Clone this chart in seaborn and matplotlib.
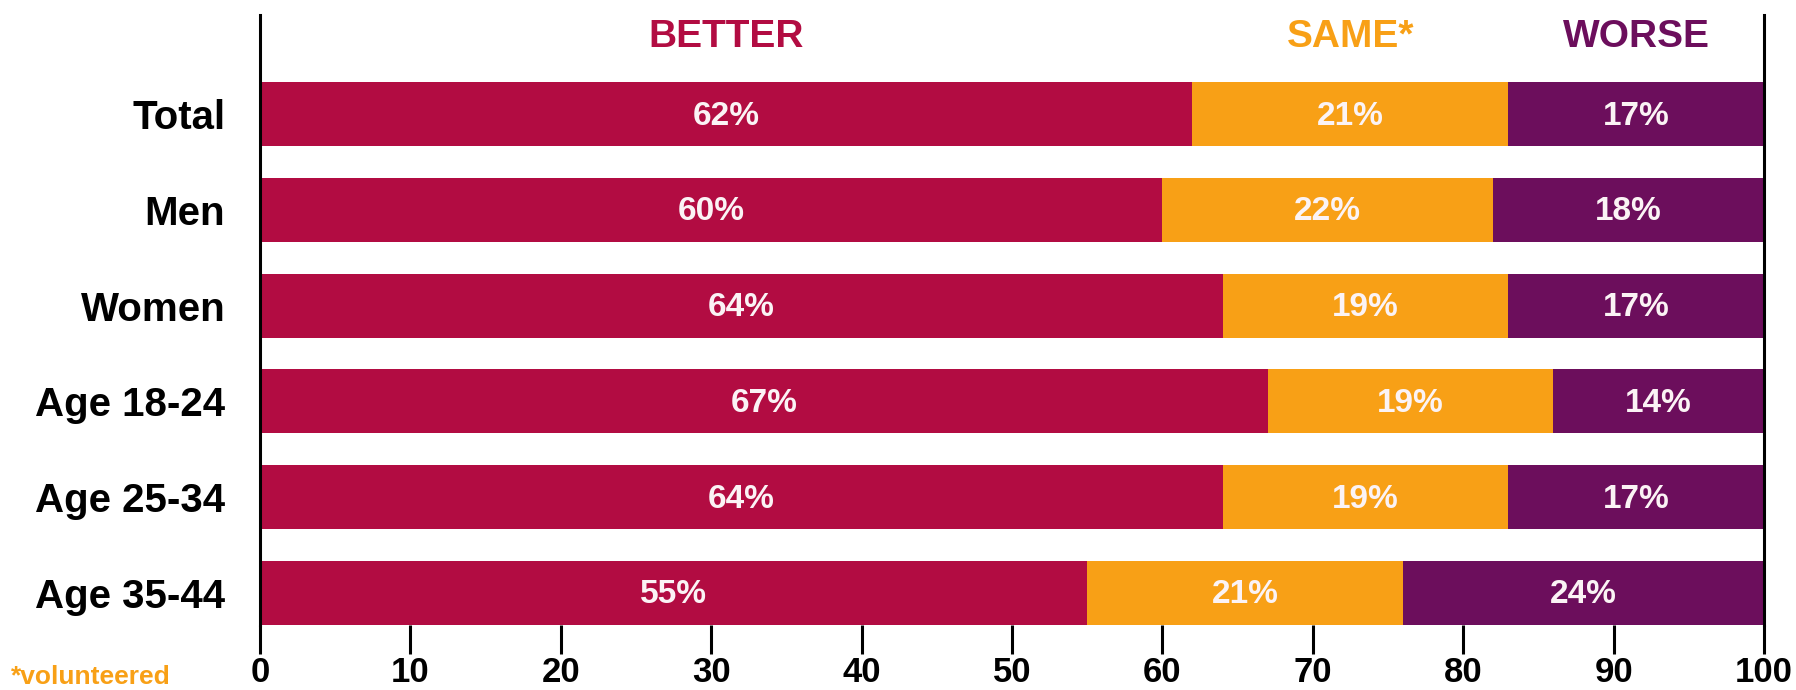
import matplotlib
matplotlib.use("Agg")
import matplotlib.pyplot as plt
import seaborn as sns
import numpy as np
import pandas as pd

categories = ["Total", "Men", "Women", "Age 18-24", "Age 25-34", "Age 35-44"]
better = [62, 60, 64, 67, 64, 55]
same = [21, 22, 19, 19, 19, 21]
worse = [17, 18, 17, 14, 17, 24]
series_names = ["BETTER", "SAME*", "WORSE"]
xticks = [0, 10, 20, 30, 40, 50, 60, 70, 80, 90, 100]

C_BETTER = "#B20C42"
C_SAME = "#F8A016"
C_WORSE = "#6C0E5C"

sns.set_style("white")
plt.rcParams["font.family"] = ["Liberation Sans", "DejaVu Sans"]
plt.rcParams["font.weight"] = "bold"

df = pd.DataFrame({"cat": categories, "better": better, "same": same, "worse": worse})
df["c1"] = df["better"]
df["c2"] = df["better"] + df["same"]
df["c3"] = df["better"] + df["same"] + df["worse"]

fig = plt.figure(figsize=(17.96, 6.9), dpi=100)
ax = fig.add_axes([260 / 1796, 65 / 690, (1764 - 260) / 1796, 610 / 690])

for col, c in [("c3", C_WORSE), ("c2", C_SAME), ("c1", C_BETTER)]:
    sns.barplot(data=df, x=col, y="cat", color=c, width=0.67, saturation=1,
                ax=ax, orient="h", linewidth=0, edgecolor="none")

for i in range(len(categories)):
    starts = [0, df["c1"][i], df["c2"][i]]
    vals = [better[i], same[i], worse[i]]
    for s, v in zip(starts, vals):
        ax.text(s + v / 2, i + 0.02, f"{v}%", ha="center", va="center", color="#FBF3F5",
                fontsize=24, fontweight="bold")

# Header labels centred over the Total row segments
hstarts = [0, df["c1"][0], df["c2"][0]]
hvals = [better[0], same[0], worse[0]]
hcolors = [C_BETTER, C_SAME, C_WORSE]
for name, s, v, c in zip(series_names, hstarts, hvals, hcolors):
    ax.text(s + v / 2, -0.81, name, ha="center", va="center", color=c,
            fontsize=28, fontweight="bold")

ax.set_xlim(0, 100)
ax.set_ylim(5.335, -1.035)
ax.set_xticks(xticks)
ax.set_xticklabels([str(t) for t in xticks])
ax.set_xlabel("")
ax.set_ylabel("")
for side in ["top", "bottom"]:
    ax.spines[side].set_visible(False)
for side in ["left", "right"]:
    ax.spines[side].set_visible(True)
    ax.spines[side].set_color("black")
    ax.spines[side].set_linewidth(2.2)
ax.tick_params(axis="x", direction="out", length=21, width=2.2, color="black",
               labelsize=25, pad=1, bottom=True)
ax.tick_params(axis="y", length=0, pad=25, labelsize=29)
for lab in ax.get_xticklabels() + ax.get_yticklabels():
    lab.set_fontweight("bold")
    lab.set_color("black")

fig.text(11 / 1796, 6 / 690, "*volunteered", color=C_SAME, fontsize=19,
         fontweight="bold", ha="left", va="baseline")

fig.savefig("out.png", dpi=100)
